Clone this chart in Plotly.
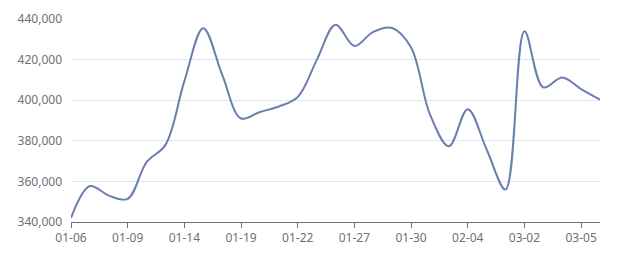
import plotly.graph_objects as go

dates = ["01-06", "01-07", "01-08", "01-09", "01-10", "01-13", "01-14", "01-15",
         "01-16", "01-19", "01-20", "01-21", "01-22", "01-23", "01-24", "01-27",
         "01-28", "01-29", "01-30", "01-31", "02-03", "02-04", "02-05", "02-06",
         "03-02", "03-03", "03-04", "03-05", "03-06"]
values = [342000, 357700, 353000, 351400, 369500, 378000, 409400, 435500,
          412600, 391000, 394200, 396900, 401600, 419600, 437200, 426700,
          433700, 435600, 426000, 393000, 377300, 395600, 375700, 356000,
          434000, 406300, 411200, 405500, 400300]
tick_labels = dates[::3]
y_ticks = [340000, 360000, 380000, 400000, 420000, 440000]

fig = go.Figure()
fig.add_trace(go.Scatter(
    x=dates, y=values, mode="lines",
    line=dict(color="#6b7fae", width=2, shape="spline", smoothing=1.0),
    hoverinfo="skip",
))
fig.update_layout(
    width=640, height=270,
    margin=dict(l=71, r=40, t=10, b=48),
    paper_bgcolor="white", plot_bgcolor="white",
    showlegend=False,
    font=dict(family="Noto Sans", size=12, color="#6e7079"),
)
fig.update_xaxes(
    type="category", range=[0, len(dates) - 1],
    tickmode="array", tickvals=tick_labels, ticktext=tick_labels,
    showline=True, linecolor="#6e7079", linewidth=1,
    ticks="outside", ticklen=5, tickcolor="#6e7079",
    showgrid=False, zeroline=False,
    tickfont=dict(size=12, color="#6e7079"),
)
fig.update_yaxes(
    range=[340000, 440000], tickvals=y_ticks,
    tickformat=",d",
    showgrid=True, gridcolor="#e0e6f1", gridwidth=1,
    showline=False, zeroline=False, ticks="",
    ticklabelstandoff=8,
    tickfont=dict(size=12, color="#6e7079"),
)
fig.write_html("out.html")
